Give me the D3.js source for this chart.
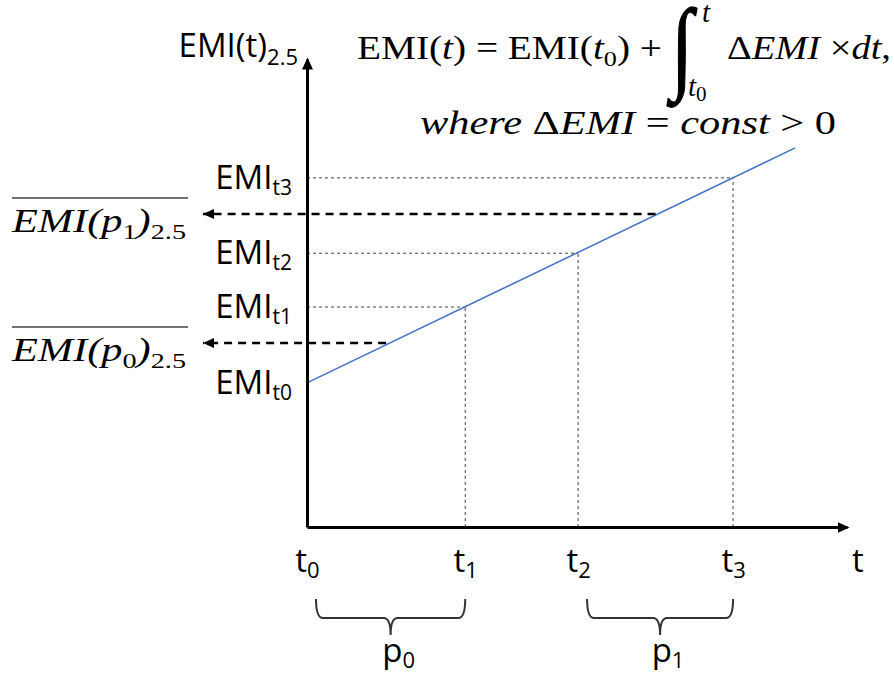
<!DOCTYPE html>
<html>
<head>
<meta charset="utf-8">
<script src="https://cdn.jsdelivr.net/npm/d3@7"></script>
<style>
  body { margin: 0; background: #fff; }
  svg { display: block; }
  .sans { font-family: 'Open Sans', Lato, sans-serif; }
  .serif { font-family: 'Liberation Serif', 'DejaVu Serif', serif; }
</style>
</head>
<body>
<div id="chart"></div>
<script>
// time points t0..t3 and the EMI value at each of them
var timeSubs = ['0', '1', '2', '3']
var timeValues = [0, 2.93, 5.02, 7.89]
var emiValues = [3.08, 4.7, 5.85, 7.46]

// the straight EMI(t) line, start and end
var lineTimes = [0, 9.04]
var lineEmi = [3.08, 8.1]

// periods p0, p1 and their mean EMI
var periodSubs = ['0', '1']
var periodStarts = [0, 5.02]
var periodEnds = [2.93, 7.89]
var periodMeans = [3.93, 6.69]

var width = 894
var height = 675

var svg = d3
  .select('#chart')
  .append('svg')
  .attr('width', width)
  .attr('height', height)

// scales
var xPositionScale = d3.scaleLinear().domain([0, 10]).range([307, 847])
var yPositionScale = d3.scaleLinear().domain([0, 10]).range([527, 59])

// arrow heads
var defs = svg.append('defs')
defs
  .append('marker')
  .attr('id', 'axis-arrow')
  .attr('viewBox', '0 0 12 11')
  .attr('refX', 10)
  .attr('refY', 5.5)
  .attr('markerWidth', 12)
  .attr('markerHeight', 11)
  .attr('markerUnits', 'userSpaceOnUse')
  .attr('orient', 'auto')
  .append('path')
  .attr('d', 'M0,0L12,5.5L0,11Z')
  .attr('fill', '#000')

defs
  .append('marker')
  .attr('id', 'mean-arrow')
  .attr('viewBox', '0 0 11 10')
  .attr('refX', 11)
  .attr('refY', 5)
  .attr('markerWidth', 11)
  .attr('markerHeight', 10)
  .attr('markerUnits', 'userSpaceOnUse')
  .attr('orient', 'auto')
  .append('path')
  .attr('d', 'M0,0L11,5L0,10Z')
  .attr('fill', '#000')

// dotted guides from each t point
var points = timeValues.map(function(t, i) {
  return { t: t, emi: emiValues[i], sub: timeSubs[i] }
})

svg
  .selectAll('.guide-h')
  .data(points.slice(1))
  .enter()
  .append('line')
  .attr('class', 'guide-h')
  .attr('x1', xPositionScale(0))
  .attr('x2', d => xPositionScale(d.t))
  .attr('y1', d => yPositionScale(d.emi))
  .attr('y2', d => yPositionScale(d.emi))
  .attr('stroke', '#444')
  .attr('stroke-width', 1)
  .attr('stroke-dasharray', '3,3')

svg
  .selectAll('.guide-v')
  .data(points.slice(1))
  .enter()
  .append('line')
  .attr('class', 'guide-v')
  .attr('x1', d => xPositionScale(d.t))
  .attr('x2', d => xPositionScale(d.t))
  .attr('y1', yPositionScale(0))
  .attr('y2', d => yPositionScale(d.emi))
  .attr('stroke', '#444')
  .attr('stroke-width', 1)
  .attr('stroke-dasharray', '3,3')

// the EMI line
var emiLine = d3
  .line()
  .x(d => xPositionScale(d[0]))
  .y(d => yPositionScale(d[1]))

svg
  .append('path')
  .datum(d3.zip(lineTimes, lineEmi))
  .attr('d', emiLine)
  .attr('fill', 'none')
  .attr('stroke', '#4472c4')
  .attr('stroke-width', 1.5)

// periods
var periods = periodSubs.map(function(s, i) {
  return {
    sub: s,
    start: periodStarts[i],
    end: periodEnds[i],
    mean: periodMeans[i]
  }
})

// dashed arrows from the line to the mean labels
svg
  .selectAll('.mean-arrow')
  .data(periods)
  .enter()
  .append('line')
  .attr('class', 'mean-arrow')
  .attr('x1', d => xPositionScale((d.start + d.end) / 2))
  .attr('x2', 203)
  .attr('y1', d => yPositionScale(d.mean))
  .attr('y2', d => yPositionScale(d.mean))
  .attr('stroke', '#000')
  .attr('stroke-width', 2.5)
  .attr('stroke-dasharray', '8,6')
  .attr('marker-end', 'url(#mean-arrow)')

// mean labels with overline
var meanLabels = svg
  .selectAll('.mean-label')
  .data(periods)
  .enter()
  .append('g')
  .attr('class', 'mean-label')

meanLabels
  .append('line')
  .attr('x1', 12)
  .attr('x2', 188)
  .attr('y1', d => yPositionScale(d.mean) - 16)
  .attr('y2', d => yPositionScale(d.mean) - 16)
  .attr('stroke', '#444')
  .attr('stroke-width', 1.5)

var meanText = meanLabels
  .append('text')
  .attr('class', 'serif')
  .attr('x', 12)
  .attr('y', d => yPositionScale(d.mean) + 18)
  .attr('font-size', 33)
  .attr('textLength', 174)
  .attr('lengthAdjust', 'spacingAndGlyphs')

meanText.append('tspan').attr('font-style', 'italic').text('EMI(p')
meanText
  .append('tspan')
  .attr('font-size', 22)
  .attr('dy', 7)
  .text(d => d.sub)
meanText
  .append('tspan')
  .attr('font-style', 'italic')
  .attr('dy', -7)
  .text(')')
meanText
  .append('tspan')
  .attr('font-size', 22)
  .attr('dy', 7)
  .text('2.5')

// braces under the periods
function bracePath(x0, x1) {
  var top = 599
  var mid = 618
  var tip = 635
  var cx = (x0 + x1) / 2
  var r = 7
  return (
    'M' + x0 + ',' + top +
    'Q' + x0 + ',' + mid + ' ' + (x0 + r) + ',' + mid +
    'L' + (cx - r) + ',' + mid +
    'Q' + cx + ',' + mid + ' ' + cx + ',' + tip +
    'Q' + cx + ',' + mid + ' ' + (cx + r) + ',' + mid +
    'L' + (x1 - r) + ',' + mid +
    'Q' + x1 + ',' + mid + ' ' + x1 + ',' + top
  )
}

svg
  .selectAll('.brace')
  .data(periods)
  .enter()
  .append('path')
  .attr('class', 'brace')
  .attr('d', d => bracePath(xPositionScale(d.start) + 9, xPositionScale(d.end)))
  .attr('fill', 'none')
  .attr('stroke', '#333')
  .attr('stroke-width', 2)

var periodText = svg
  .selectAll('.period-label')
  .data(periods)
  .enter()
  .append('text')
  .attr('class', 'sans period-label')
  .attr('x', d => (xPositionScale(d.start) + 9 + xPositionScale(d.end)) / 2 + 8)
  .attr('y', 662)
  .attr('text-anchor', 'middle')
  .attr('font-size', 33)
periodText.append('tspan').text('p')
periodText
  .append('tspan')
  .attr('font-size', 22)
  .attr('dy', 6)
  .text(d => d.sub)

// axes
var xAxis = d3
  .axisBottom(xPositionScale)
  .tickValues(timeValues)
  .tickSize(0)
  .tickSizeOuter(0)
  .tickPadding(22)

var xAxisG = svg
  .append('g')
  .attr('class', 'axis x-axis')
  .attr('transform', 'translate(0,' + yPositionScale(0) + ')')
  .call(xAxis)

var yAxis = d3
  .axisLeft(yPositionScale)
  .tickValues(emiValues)
  .tickSize(0)
  .tickSizeOuter(0)
  .tickPadding(15)

var yAxisG = svg
  .append('g')
  .attr('class', 'axis y-axis')
  .attr('transform', 'translate(' + xPositionScale(0) + ',0)')
  .call(yAxis)

svg
  .selectAll('.axis .domain')
  .attr('stroke', '#000')
  .attr('stroke-width', 3)
  .attr('marker-end', 'url(#axis-arrow)')

svg
  .selectAll('.axis')
  .attr('font-family', null)
  .attr('font-size', null)

// subscripted tick labels
xAxisG.selectAll('.tick text').each(function(d, i) {
  var t = d3.select(this).text('').attr('class', 'sans').attr('font-size', 33).attr('fill', '#000')
  t.append('tspan').text('t')
  t.append('tspan').attr('font-size', 22).attr('dy', 6).text(timeSubs[i])
})

yAxisG.selectAll('.tick text').each(function(d, i) {
  var t = d3.select(this).text('').attr('class', 'sans').attr('font-size', 33).attr('fill', '#000')
  t.append('tspan').text('EMI')
  t.append('tspan').attr('font-size', 21).attr('dy', 6).text('t' + timeSubs[i])
})

// axis titles
svg
  .append('text')
  .attr('class', 'sans')
  .attr('x', 858)
  .attr('y', 572)
  .attr('text-anchor', 'middle')
  .attr('font-size', 33)
  .text('t')

var yTitle = svg
  .append('text')
  .attr('class', 'sans')
  .attr('x', 298)
  .attr('y', 57)
  .attr('text-anchor', 'end')
  .attr('font-size', 33)
yTitle.append('tspan').text('EMI(t)')
yTitle.append('tspan').attr('font-size', 22).attr('dy', 8).text('2.5')

// formula
var f1 = svg
  .append('text')
  .attr('class', 'serif')
  .attr('x', 357)
  .attr('y', 59)
  .attr('font-size', 33)
  .attr('textLength', 305)
  .attr('lengthAdjust', 'spacingAndGlyphs')
f1.append('tspan').text('EMI(')
f1.append('tspan').attr('font-style', 'italic').text('t')
f1.append('tspan').text(') = EMI(')
f1.append('tspan').attr('font-style', 'italic').text('t')
f1.append('tspan').attr('font-size', 22).attr('dy', 7).text('0')
f1.append('tspan').attr('dy', -7).text(') +')

svg
  .append('text')
  .attr('class', 'serif')
  .attr('transform', 'translate(671,80) scale(1,1.28)')
  .attr('font-size', 80)
  .attr('stroke', '#000')
  .attr('stroke-width', 1)
  .text('\u222b')

svg
  .append('text')
  .attr('class', 'serif')
  .attr('x', 702)
  .attr('y', 22)
  .attr('font-size', 29)
  .attr('font-style', 'italic')
  .text('t')

var lower = svg
  .append('text')
  .attr('class', 'serif')
  .attr('x', 688)
  .attr('y', 96)
  .attr('font-size', 29)
lower.append('tspan').attr('font-style', 'italic').text('t')
lower.append('tspan').attr('font-size', 21).attr('dy', 5).text('0')

var f2 = svg
  .append('text')
  .attr('class', 'serif')
  .attr('x', 727)
  .attr('y', 59)
  .attr('font-size', 33)
  .attr('textLength', 164)
  .attr('lengthAdjust', 'spacingAndGlyphs')
f2.append('tspan').text('\u0394')
f2.append('tspan').attr('font-style', 'italic').text('EMI')
f2.append('tspan').text(' \u00d7')
f2.append('tspan').attr('font-style', 'italic').text('dt')
f2.append('tspan').text(',')

var f3 = svg
  .append('text')
  .attr('class', 'serif')
  .attr('x', 420)
  .attr('y', 134)
  .attr('font-size', 33)
  .attr('textLength', 416)
  .attr('lengthAdjust', 'spacingAndGlyphs')
f3.append('tspan').attr('font-style', 'italic').text('where ')
f3.append('tspan').text('\u0394')
f3.append('tspan').attr('font-style', 'italic').text('EMI')
f3.append('tspan').text(' = ')
f3.append('tspan').attr('font-style', 'italic').text('const')
f3.append('tspan').text(' > 0')
</script>
</body>
</html>
